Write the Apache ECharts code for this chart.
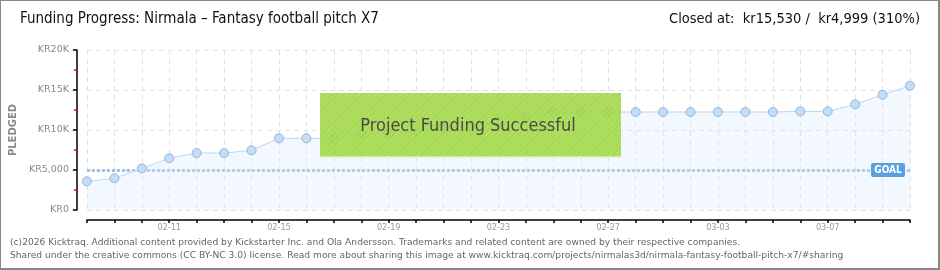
<!DOCTYPE html>
<html>
<head>
<meta charset="utf-8">
<script src="https://cdn.jsdelivr.net/npm/echarts@6/dist/echarts.min.js"></script>
<style>
html,body{margin:0;padding:0;background:#fff;}
#chart{width:940px;height:270px;}
</style>
</head>
<body>
<div id="chart"></div>
<script>
var dates = ['02-08','02-09','02-10','02-11','02-12','02-13','02-14','02-15','02-16','02-17','02-18','02-19','02-20','02-21','02-22','02-23','02-24','02-25','02-26','02-27','02-28','03-01','03-02','03-03','03-04','03-05','03-06','03-07','03-08','03-09','03-10'];
var pledged = [3580,3960,5200,6460,7120,7120,7460,8960,8960,8960,9540,9600,9800,10200,10600,11000,11460,12250,12250,12250,12250,12250,12250,12250,12250,12250,12330,12330,13200,14400,15530];
var goal = 4999;
var yTickValues = [0,5000,10000,15000,20000];
var yTickLabels = ['KR0','KR5,000','KR10K','KR15K','KR20K'];
var titleText = 'Funding Progress: Nirmala \u2013 Fantasy football pitch X7';
var closedText = 'Closed at:  kr15,530 /  kr4,999 (310%)';
var footer1 = '(c)2026 Kicktraq. Additional content provided by Kickstarter Inc. and Ola Andersson. Trademarks and related content are owned by their respective companies.';
var footer2 = 'Shared under the creative commons (CC BY-NC 3.0) license. Read more about sharing this image at www.kicktraq.com/projects/nirmalas3d/nirmala-fantasy-football-pitch-x7/#sharing';
var successText = 'Project Funding Successful';

var narrow = '"Liberation Sans Narrow","DejaVu Sans Condensed",sans-serif';

// hatch pattern
var pc = document.createElement('canvas');
pc.width = 6; pc.height = 6;
var pctx = pc.getContext('2d');
pctx.strokeStyle = 'rgba(120,180,40,0.25)';
pctx.lineWidth = 1;
pctx.beginPath();
pctx.moveTo(0,6); pctx.lineTo(6,0);
pctx.moveTo(-1,1); pctx.lineTo(1,-1);
pctx.moveTo(5,7); pctx.lineTo(7,5);
pctx.stroke();

var chart = echarts.init(document.getElementById('chart'));
var option = {
  animation: false,
  backgroundColor: '#fff',
  grid: {left: 86, right: 30, top: 50, bottom: 60},
  xAxis: {
    type: 'category',
    data: dates,
    boundaryGap: false,
    offset: 10,
    axisLine: {show: true, onZero: false, lineStyle: {color: '#000', width: 1.5}},
    axisTick: {show: true, interval: 0, length: 3, lineStyle: {color: '#000', width: 1.5}},
    axisLabel: {
      interval: function (i) { return i % 4 === 3; },
      color: '#999', fontSize: 9, fontFamily: '"DejaVu Sans Condensed",sans-serif', margin: 3
    },
    splitLine: {show: true, interval: 0, lineStyle: {color: '#e2e2e2', type: [5, 4]}}
  },
  yAxis: {
    type: 'value',
    min: 0, max: 20000, interval: 5000,
    offset: 10,
    name: 'PLEDGED',
    nameLocation: 'middle',
    nameRotate: 90,
    nameGap: 58,
    nameTextStyle: {color: '#888', fontSize: 10, fontFamily: '"DejaVu Sans"', fontWeight: 'bold'},
    axisLine: {show: true, lineStyle: {color: '#000', width: 1.5}},
    axisTick: {show: true, length: 4, lineStyle: {color: '#000', width: 1.5}},
    minorTick: {show: true, splitNumber: 2, length: 3, lineStyle: {color: '#e00', width: 1.5}},
    axisLabel: {
      color: '#888', fontSize: 9.5, fontFamily: '"DejaVu Sans",sans-serif', margin: 8,
      formatter: function (v) { var k = yTickValues.indexOf(v); return k >= 0 ? yTickLabels[k] : ''; }
    },
    splitLine: {show: true, lineStyle: {color: '#e2e2e2', type: [5, 4]}}
  },
  series: [{
    type: 'line',
    data: pledged,
    symbol: 'circle',
    symbolSize: 9,
    lineStyle: {color: '#b8d7f4', width: 1},
    itemStyle: {color: '#c4ddf7', borderColor: '#93b6dc', borderWidth: 1},
    areaStyle: {color: 'rgba(214,232,250,0.45)'},
    z: 3,
    markLine: {
      silent: true,
      symbol: 'none',
      label: {show: false},
      lineStyle: {color: '#9dc1e8', width: 3, type: [3, 2]},
      data: [{yAxis: goal}],
      z: 2
    }
  }],
  graphic: [
    {type: 'text', left: 20, top: 12, style: {text: titleText, font: '15px ' + narrow, fill: '#111'}},
    {type: 'text', right: 20, top: 12, style: {text: closedText, font: '14.5px ' + narrow, fill: '#111'}},
    {type: 'text', left: 10, top: 238, style: {text: footer1, font: '9.15px "DejaVu Sans",sans-serif', fill: '#666'}},
    {type: 'text', left: 10, top: 251, style: {text: footer2, font: '9.15px "DejaVu Sans",sans-serif', fill: '#666'}},
    {type: 'rect', shape: {x: 320, y: 93, width: 301, height: 64}, style: {fill: 'rgba(164,218,72,0.88)'}, z: 10},
    {type: 'rect', shape: {x: 320, y: 93, width: 301, height: 64}, style: {fill: {image: pc, repeat: 'repeat'}}, z: 11},
    {type: 'rect', shape: {x: 320, y: 156, width: 301, height: 1.5}, style: {fill: '#d4ebb0'}, z: 11},
    {type: 'text', x: 468, y: 126, z: 12, style: {text: successText, font: '18px ' + narrow, fill: '#4a4a4a', align: 'center', verticalAlign: 'middle', textShadowColor: '#fff', textShadowOffsetX: 1, textShadowOffsetY: 1, textShadowBlur: 0}},
    {type: 'rect', shape: {x: 0, y: 0, width: 939, height: 269}, style: {fill: 'none', stroke: '#888', lineWidth: 2}, z: 20}
  ]
};
chart.setOption(option);

// GOAL label placed through the chart's own scale
var p = chart.convertToPixel({gridIndex: 0}, [dates.length - 1, goal]);
chart.setOption({graphic: option.graphic.concat([
  {type: 'rect', shape: {x: p[0] - 39, y: p[1] - 7, width: 34, height: 14, r: 2}, style: {fill: '#5a9fe0'}, z: 15},
  {type: 'text', x: p[0] - 22, y: p[1], z: 16, style: {text: 'GOAL', font: 'bold 10px "DejaVu Sans Condensed",sans-serif', fill: '#fff', align: 'center', verticalAlign: 'middle'}}
])});
</script>
</body>
</html>
